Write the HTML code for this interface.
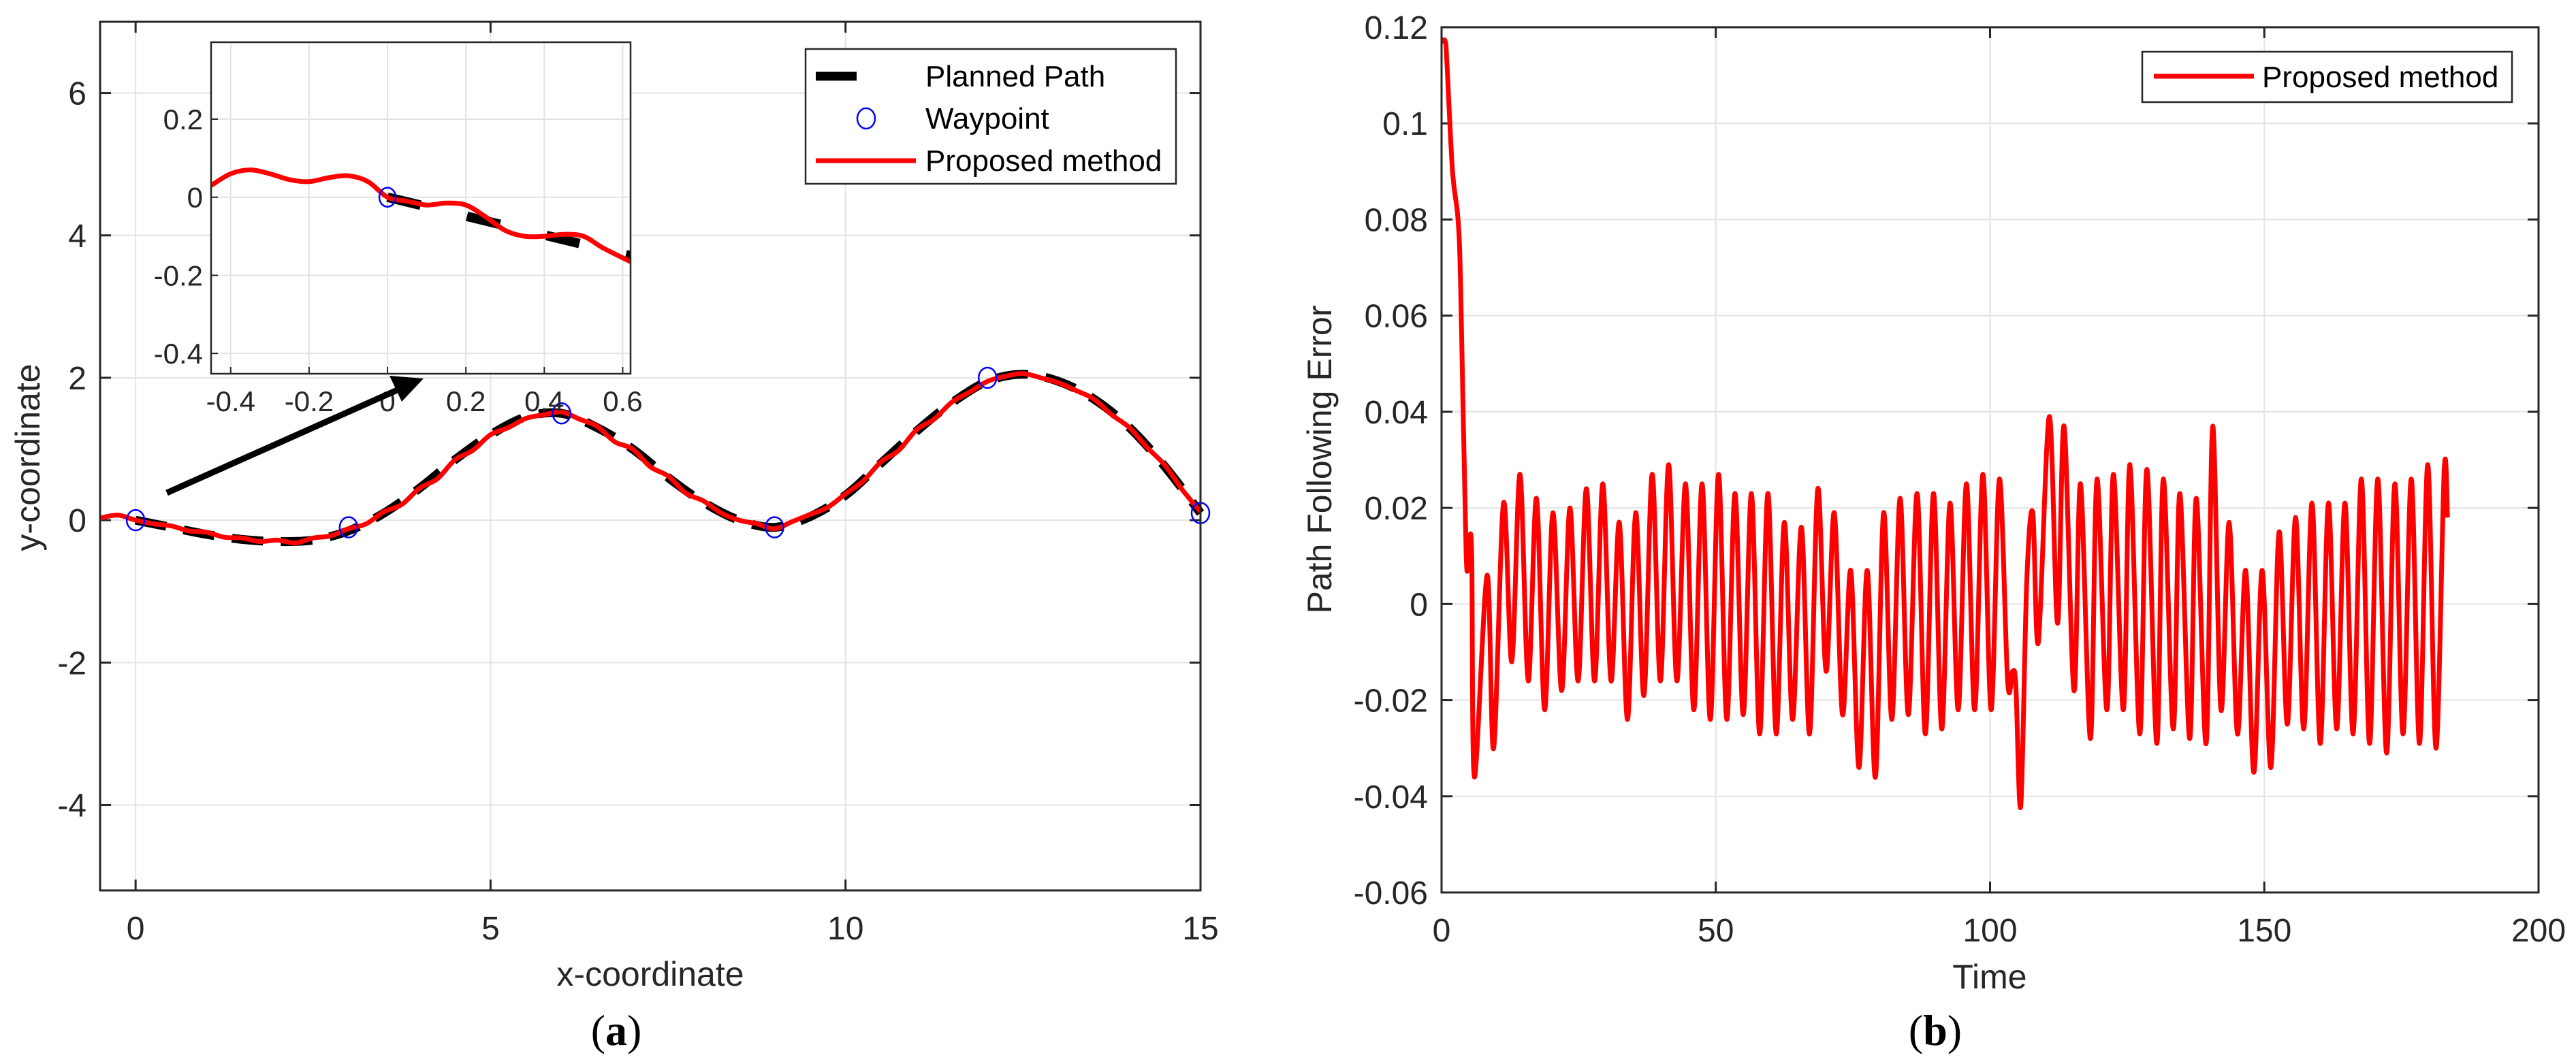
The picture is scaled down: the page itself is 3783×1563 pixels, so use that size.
<!DOCTYPE html>
<html><head><meta charset="utf-8"><style>
html,body{margin:0;padding:0;background:#fff;}
svg{display:block;font-family:"Liberation Sans",Arial,sans-serif;}
</style></head><body>
<svg id="fig" width="3783" height="1563" viewBox="0 0 3783 1563" xmlns="http://www.w3.org/2000/svg"></svg>
<script>
// ---------- Data: left plot (a) ----------
const waypointX = [0, 3, 6, 9, 12, 15];
const waypointY = [0, -0.1, 1.5, -0.1, 2, 0.1];
const plannedX = [0,0.5,1,1.5,2,2.5,3,3.5,4,4.5,5,5.5,6,6.5,7,7.5,8,8.5,9,9.5,10,10.5,11,11.5,12,12.5,13,13.5,14,14.5,15];
const plannedY = [0,-0.1,-0.2,-0.27,-0.3,-0.28,-0.15,0.1,0.45,0.85,1.2,1.45,1.5,1.3,1.0,0.6,0.25,0,-0.1,0.05,0.35,0.8,1.25,1.65,1.95,2.05,1.95,1.7,1.3,0.75,0.1];
const trackX = [-0.5,-0.25,0,0.25,0.5,0.75,1,1.25,1.5,1.75,2,2.25,2.5,2.75,3,3.25,3.5,3.75,4,4.25,4.5,4.75,5,5.25,5.5,5.75,6,6.25,6.5,6.75,7,7.25,7.5,7.75,8,8.25,8.5,8.75,9,9.25,9.5,9.75,10,10.25,10.5,10.75,11,11.25,11.5,11.75,12,12.25,12.5,12.75,13,13.25,13.5,13.75,14,14.25,14.5,14.75,15];
const trackY = [0.03,0.07,0,-0.05,-0.08,-0.15,-0.17,-0.24,-0.25,-0.3,-0.28,-0.32,-0.25,-0.22,-0.12,-0.05,0.12,0.22,0.45,0.58,0.85,0.98,1.2,1.3,1.43,1.48,1.52,1.42,1.32,1.1,1.0,0.75,0.62,0.38,0.27,0.1,0,-0.05,-0.12,-0.02,0.08,0.18,0.37,0.55,0.82,0.98,1.27,1.42,1.66,1.8,1.95,2.02,2.06,2.0,1.93,1.82,1.7,1.48,1.3,1.02,0.77,0.42,0.12];
const xTicksA = [0,5,10,15];
const yTicksA = [-4,-2,0,2,4,6];
// inset
const insetTrackX = [-0.45,-0.4,-0.35,-0.3,-0.25,-0.2,-0.15,-0.1,-0.05,0,0.05,0.1,0.15,0.2,0.25,0.3,0.35,0.4,0.45,0.5,0.55,0.62];
const insetTrackY = [0.03,0.06,0.07,0.06,0.045,0.04,0.05,0.055,0.04,0,-0.01,-0.02,-0.015,-0.02,-0.05,-0.085,-0.1,-0.1,-0.095,-0.1,-0.13,-0.165];
const insetPlannedX = [0,0.62];
const insetPlannedY = [0,-0.15];
const insetXTicks = [-0.4,-0.2,0,0.2,0.4,0.6];
const insetXLabels = ["-0.4","-0.2","0","0.2","0.4","0.6"];
const insetYTicks = [-0.4,-0.2,0,0.2];
const insetYLabels = ["-0.4","-0.2","0","0.2"];
// ---------- Data: right plot (b) ----------
const timeVals = [0,0.7,1,2,3,3.5,4.5,5,5.5,6.0,8.3,9.5,11.3,12.8,14.3,15.8,17.3,18.8,20.3,21.9,23.4,24.9,26.4,27.9,29.4,30.9,32.4,33.9,35.4,36.9,38.4,39.9,41.4,42.9,44.5,46.0,47.5,49.0,50.5,52.0,53.5,55.0,56.5,58.0,59.5,61.0,62.5,64.0,65.6,67.1,68.6,70.1,71.6,73.1,74.6,76.1,77.6,79.1,80.6,82.1,83.6,85.1,86.7,88.2,89.7,91.2,92.7,94.2,95.7,97.2,98.7,100.2,101.7,103.2,104.1,104.7,105.6,106.7,107.8,108.8,110.8,112.3,113.5,115.3,116.5,118.3,119.5,121.3,122.5,124.3,125.5,127.3,128.6,130.4,131.6,133.4,134.6,136.4,137.6,139.4,140.6,142.1,143.6,145.1,146.6,148.1,149.6,151.2,152.7,154.2,155.7,157.2,158.7,160.2,161.7,163.2,164.7,166.2,167.7,169.2,170.7,172.3,173.8,175.3,176.8,178.3,179.8,181.3,182.8,183.4];
const errorVals = [0.117,0.117,0.112,0.09,0.08,0.065,0.01,0.013,0.01,-0.036,0.006,-0.03,0.021,-0.012,0.027,-0.016,0.022,-0.022,0.019,-0.018,0.02,-0.016,0.024,-0.016,0.025,-0.016,0.017,-0.024,0.019,-0.019,0.027,-0.016,0.029,-0.016,0.025,-0.022,0.025,-0.024,0.027,-0.024,0.023,-0.023,0.023,-0.027,0.023,-0.027,0.017,-0.024,0.016,-0.027,0.024,-0.014,0.019,-0.023,0.007,-0.034,0.007,-0.036,0.019,-0.024,0.022,-0.023,0.023,-0.027,0.023,-0.026,0.021,-0.022,0.025,-0.022,0.027,-0.022,0.026,-0.016,-0.014,-0.017,-0.042,0.005,0.019,-0.008,0.039,-0.004,0.037,-0.018,0.025,-0.028,0.026,-0.022,0.027,-0.022,0.029,-0.027,0.028,-0.029,0.026,-0.026,0.023,-0.028,0.022,-0.029,0.037,-0.022,0.017,-0.027,0.007,-0.035,0.007,-0.034,0.015,-0.025,0.018,-0.026,0.021,-0.029,0.021,-0.026,0.021,-0.027,0.026,-0.029,0.026,-0.031,0.025,-0.027,0.026,-0.029,0.029,-0.030,0.028,0.018];
const xTicksB = [0,50,100,150,200];
const yTicksB = [-0.06,-0.04,-0.02,0,0.02,0.04,0.06,0.08,0.1,0.12];
const yLabelsB = ["-0.06","-0.04","-0.02","0","0.02","0.04","0.06","0.08","0.1","0.12"];

const NS = "http://www.w3.org/2000/svg";
const svg = document.getElementById('fig');
function mk(tag, attrs, parent){ const e=document.createElementNS(NS,tag); for(const k in attrs) e.setAttribute(k,attrs[k]); (parent||svg).appendChild(e); return e; }
function smoothPath(pts){
  let d = "M"+pts[0][0].toFixed(1)+","+pts[0][1].toFixed(1);
  for(let i=0;i<pts.length-1;i++){
    const p0=pts[Math.max(0,i-1)],p1=pts[i],p2=pts[i+1],p3=pts[Math.min(pts.length-1,i+2)];
    const c1x=p1[0]+(p2[0]-p0[0])/6,c1y=p1[1]+(p2[1]-p0[1])/6;
    const c2x=p2[0]-(p3[0]-p1[0])/6,c2y=p2[1]-(p3[1]-p1[1])/6;
    d+=" C"+c1x.toFixed(1)+","+c1y.toFixed(1)+" "+c2x.toFixed(1)+","+c2y.toFixed(1)+" "+p2[0].toFixed(1)+","+p2[1].toFixed(1);
  }
  return d;
}

// ================= Plot (a) =================
const A = {l:147,r:1763,t:32,b:1308,x0:-0.5,x1:15,y0:-5.2,y1:7.0};
const ax = v => A.l+(v-A.x0)/(A.x1-A.x0)*(A.r-A.l);
const ay = v => A.b-(v-A.y0)/(A.y1-A.y0)*(A.b-A.t);
const gA = mk('g',{});


mk('rect',{x:A.l,y:A.t,width:A.r-A.l,height:A.b-A.t,fill:'#fff'},gA);
xTicksA.forEach(v=>{
  const g=mk('line',{x1:ax(v),x2:ax(v),y1:A.t,y2:A.b,stroke:'#e3e3e3','stroke-width':2},gA);
   
  mk('line',{x1:ax(v),x2:ax(v),y1:A.b,y2:A.b-16,stroke:'#262626','stroke-width':3},gA);
  mk('line',{x1:ax(v),x2:ax(v),y1:A.t,y2:A.t+16,stroke:'#262626','stroke-width':3},gA);
  const t=mk('text',{x:ax(v),y:A.b+72,'font-size':48,'text-anchor':'middle',fill:'#262626'},gA); t.textContent=v;
   
});
yTicksA.forEach(v=>{
  const g=mk('line',{x1:A.l,x2:A.r,y1:ay(v),y2:ay(v),stroke:'#e3e3e3','stroke-width':2},gA);
   
  mk('line',{x1:A.l,x2:A.l+16,y1:ay(v),y2:ay(v),stroke:'#262626','stroke-width':3},gA);
  mk('line',{x1:A.r,x2:A.r-16,y1:ay(v),y2:ay(v),stroke:'#262626','stroke-width':3},gA);
  const t=mk('text',{x:A.l-20,y:ay(v)+17,'font-size':48,'text-anchor':'end',fill:'#262626'},gA); t.textContent=v;
   
});
const clipA = mk('clipPath',{id:'clipA'},gA); mk('rect',{x:A.l,y:A.t,width:A.r-A.l,height:A.b-A.t},clipA);
const planned = mk('path',{d:smoothPath(plannedX.map((x,i)=>[ax(x),ay(plannedY[i])])),fill:'none',stroke:'#000','stroke-width':13,'stroke-dasharray':'46 26'},gA);
 
const track = mk('path',{d:smoothPath(trackX.map((x,i)=>[ax(x),ay(trackY[i])])),fill:'none',stroke:'#ff0000','stroke-width':7,'clip-path':'url(#clipA)'},gA);
 
waypointX.forEach((x,i)=>{
  const c=mk('ellipse',{cx:ax(x),cy:ay(waypointY[i]),rx:13,ry:15,fill:'none',stroke:'#0000ff','stroke-width':2.5},gA);
   
});
mk('rect',{x:A.l,y:A.t,width:A.r-A.l,height:A.b-A.t,fill:'none',stroke:'#262626','stroke-width':3},gA);
let t;
t=mk('text',{x:955,y:1448,'font-size':50,'text-anchor':'middle',fill:'#262626'},gA); t.textContent='x-coordinate';
 
t=mk('text',{x:0,y:0,'font-size':50,'text-anchor':'middle',fill:'#262626',transform:'translate(58,672) rotate(-90)'},gA); t.textContent='y-coordinate';
 
t=mk('text',{x:905,y:1535,'font-size':64,'text-anchor':'middle',fill:'#000','font-family':'Liberation Serif, serif'},gA);
t.innerHTML='(<tspan font-weight="bold">a</tspan>)';
 
// legend (a)
const legA = mk('g',{},gA);
 
mk('rect',{x:1183,y:72,width:544,height:198,fill:'#fff',stroke:'#262626','stroke-width':2.5},legA);
mk('line',{x1:1198,x2:1345,y1:112,y2:112,stroke:'#000','stroke-width':13,'stroke-dasharray':'60 87 60'},legA);
mk('ellipse',{cx:1272,cy:174,rx:13,ry:15,fill:'none',stroke:'#0000ff','stroke-width':2.5},legA);
mk('line',{x1:1198,x2:1345,y1:236,y2:236,stroke:'#ff0000','stroke-width':7},legA);
[['Planned Path',127],['Waypoint',189],['Proposed method',251]].forEach(a=>{
  const e=mk('text',{x:1359,y:a[1],'font-size':44,fill:'#000'},legA); e.textContent=a[0];
   
});
// inset
const I = {l:310,r:926,t:62,b:549,x0:-0.45,x1:0.62,y0:-0.452,y1:0.397};
const ix = v => I.l+(v-I.x0)/(I.x1-I.x0)*(I.r-I.l);
const iy = v => I.b-(v-I.y0)/(I.y1-I.y0)*(I.b-I.t);
const gI = mk('g',{},gA);
 
mk('rect',{x:I.l,y:I.t,width:I.r-I.l,height:I.b-I.t,fill:'#fff'},gI);
insetXTicks.forEach((v,i)=>{
  mk('line',{x1:ix(v),x2:ix(v),y1:I.t,y2:I.b,stroke:'#e3e3e3','stroke-width':2},gI);
  mk('line',{x1:ix(v),x2:ix(v),y1:I.b,y2:I.b-10,stroke:'#262626','stroke-width':2},gI);
  const e=mk('text',{x:ix(v),y:I.b+55,'font-size':42,'text-anchor':'middle',fill:'#262626'},gI); e.textContent=insetXLabels[i];
   
});
insetYTicks.forEach((v,i)=>{
  mk('line',{x1:I.l,x2:I.r,y1:iy(v),y2:iy(v),stroke:'#e3e3e3','stroke-width':2},gI);
  mk('line',{x1:I.l,x2:I.l+10,y1:iy(v),y2:iy(v),stroke:'#262626','stroke-width':2},gI);
  const e=mk('text',{x:I.l-12,y:iy(v)+15,'font-size':42,'text-anchor':'end',fill:'#262626'},gI); e.textContent=insetYLabels[i];
   
});
const clipI = mk('clipPath',{id:'clipI'},gI); mk('rect',{x:I.l,y:I.t,width:I.r-I.l,height:I.b-I.t},clipI);
mk('path',{d:'M'+ix(insetPlannedX[0])+','+iy(insetPlannedY[0])+' L'+ix(insetPlannedX[1])+','+iy(insetPlannedY[1]),fill:'none',stroke:'#000','stroke-width':14,'stroke-dasharray':'50 70','clip-path':'url(#clipI)'},gI);
mk('path',{d:smoothPath(insetTrackX.map((x,i)=>[ix(x),iy(insetTrackY[i])])),fill:'none',stroke:'#ff0000','stroke-width':7,'clip-path':'url(#clipI)'},gI);
mk('ellipse',{cx:ix(0),cy:iy(0),rx:12,ry:14,fill:'none',stroke:'#0000ff','stroke-width':2.5},gI);
mk('rect',{x:I.l,y:I.t,width:I.r-I.l,height:I.b-I.t,fill:'none',stroke:'#262626','stroke-width':2.5},gI);
// arrow
const arr = mk('g',{},gA);
 
mk('line',{x1:245,y1:724,x2:590,y2:570,stroke:'#000','stroke-width':9},arr);
mk('polygon',{points:'622,556 572,552 590,590',fill:'#000'},arr);

// ================= Plot (b) =================
const B = {l:2117,r:3728,t:40,b:1311,x0:0,x1:200,y0:-0.06,y1:0.12};
const bx = v => B.l+(v-B.x0)/(B.x1-B.x0)*(B.r-B.l);
const by = v => B.b-(v-B.y0)/(B.y1-B.y0)*(B.b-B.t);
const gB = mk('g',{});
 
mk('rect',{x:B.l,y:B.t,width:B.r-B.l,height:B.b-B.t,fill:'#fff'},gB);
xTicksB.forEach(v=>{
  mk('line',{x1:bx(v),x2:bx(v),y1:B.t,y2:B.b,stroke:'#e3e3e3','stroke-width':2},gB);
  mk('line',{x1:bx(v),x2:bx(v),y1:B.b,y2:B.b-16,stroke:'#262626','stroke-width':3},gB);
  mk('line',{x1:bx(v),x2:bx(v),y1:B.t,y2:B.t+16,stroke:'#262626','stroke-width':3},gB);
  const e=mk('text',{x:bx(v),y:B.b+72,'font-size':48,'text-anchor':'middle',fill:'#262626'},gB); e.textContent=v;
   
});
yTicksB.forEach((v,i)=>{
  mk('line',{x1:B.l,x2:B.r,y1:by(v),y2:by(v),stroke:'#e3e3e3','stroke-width':2},gB);
  mk('line',{x1:B.l,x2:B.l+16,y1:by(v),y2:by(v),stroke:'#262626','stroke-width':3},gB);
  mk('line',{x1:B.r,x2:B.r-16,y1:by(v),y2:by(v),stroke:'#262626','stroke-width':3},gB);
  const e=mk('text',{x:B.l-20,y:by(v)+17,'font-size':48,'text-anchor':'end',fill:'#262626'},gB); e.textContent=yLabelsB[i];
   
});
const err = mk('path',{d:smoothPath(timeVals.map((x,i)=>[bx(x),by(errorVals[i])])),fill:'none',stroke:'#ff0000','stroke-width':7,'stroke-linejoin':'round'},gB);
 
mk('rect',{x:B.l,y:B.t,width:B.r-B.l,height:B.b-B.t,fill:'none',stroke:'#262626','stroke-width':3},gB);
t=mk('text',{x:2922,y:1452,'font-size':50,'text-anchor':'middle',fill:'#262626'},gB); t.textContent='Time';
 
t=mk('text',{x:0,y:0,'font-size':50,'text-anchor':'middle',fill:'#262626',transform:'translate(1955,675) rotate(-90)'},gB); t.textContent='Path Following Error';
 
t=mk('text',{x:2842,y:1535,'font-size':64,'text-anchor':'middle',fill:'#000','font-family':'Liberation Serif, serif'},gB);
t.innerHTML='(<tspan font-weight="bold">b</tspan>)';
 
const legB = mk('g',{},gB);
 
mk('rect',{x:3146,y:76,width:543,height:74,fill:'#fff',stroke:'#262626','stroke-width':2.5},legB);
mk('line',{x1:3163,x2:3310,y1:112,y2:112,stroke:'#ff0000','stroke-width':7},legB);
t=mk('text',{x:3322,y:128,'font-size':44,fill:'#000'},legB); t.textContent='Proposed method';
 
</script>
</body></html>
